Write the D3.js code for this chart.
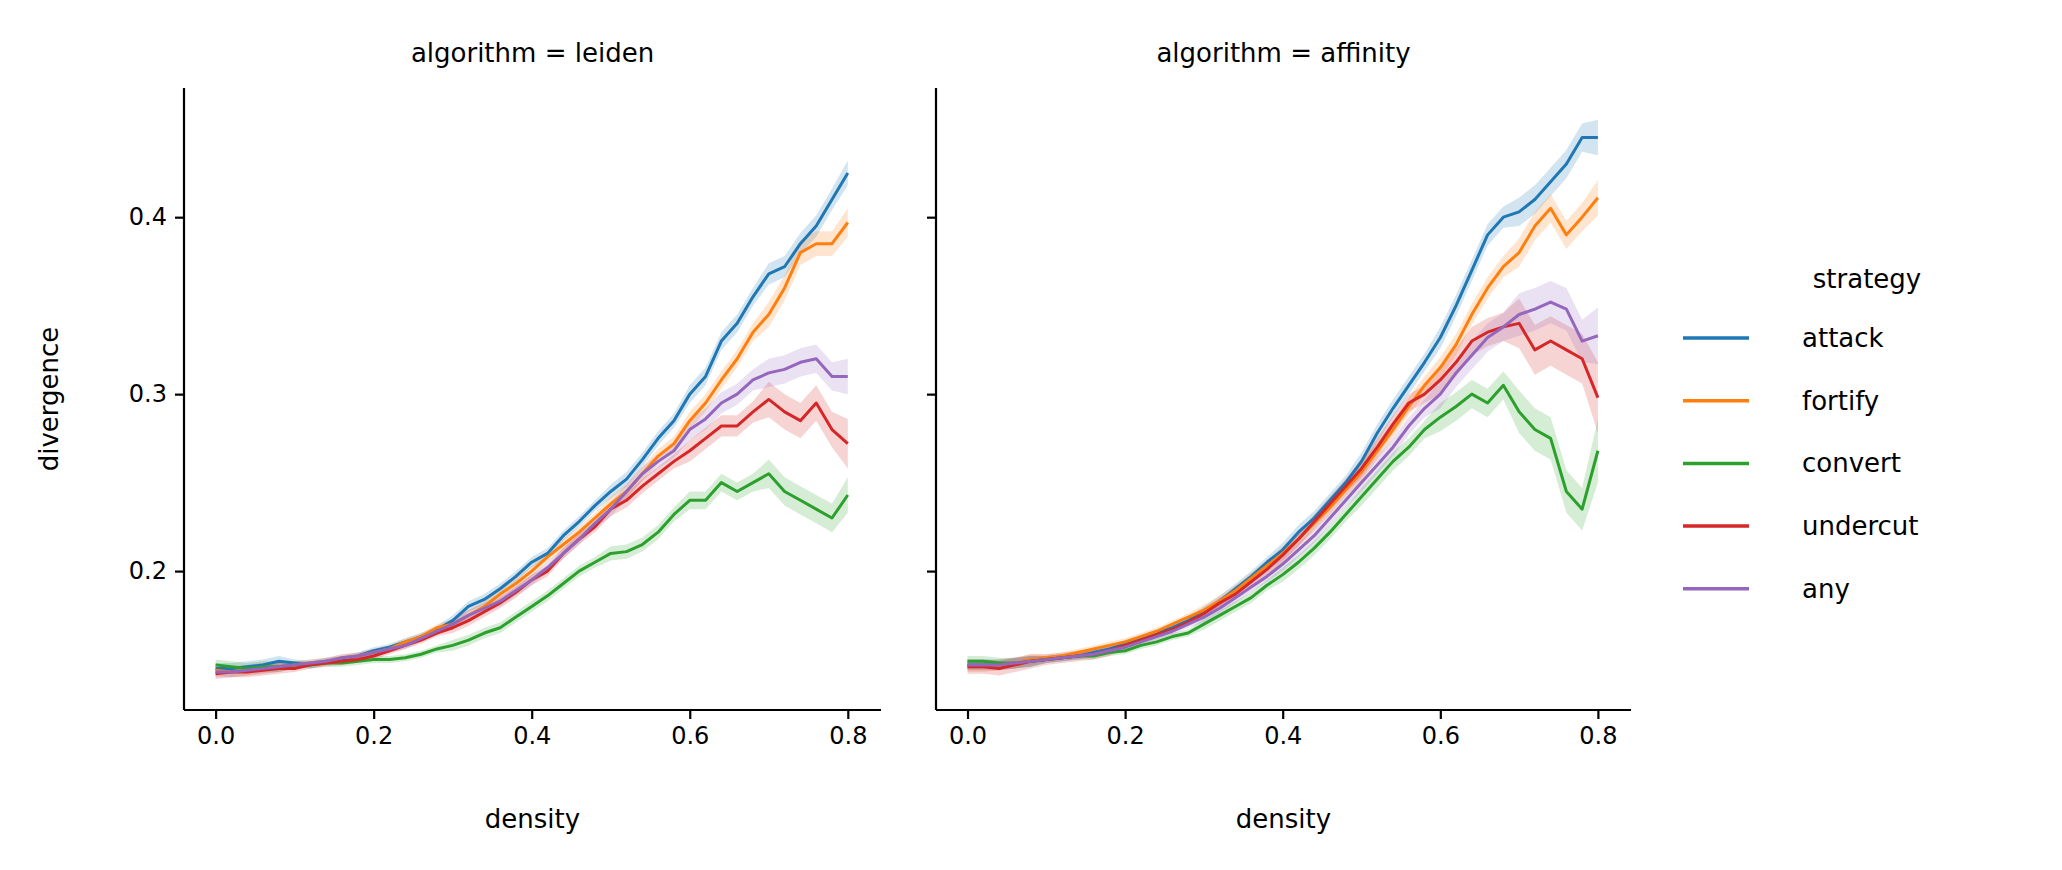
<!DOCTYPE html>
<html><head><meta charset="utf-8">
<script src="https://cdn.jsdelivr.net/npm/d3@7"></script>
<style>body{margin:0;background:#fff}text{font-family:"DejaVu Sans",sans-serif;fill:#000}</style>
</head><body><div id="wrapper"></div>
<script>
const density = d3.range(41).map(i => +(i * 0.02).toFixed(2));
const strategies = ["attack", "fortify", "convert", "undercut", "any"];
const colors = ["#1f77b4", "#ff7f0e", "#2ca02c", "#d62728", "#9467bd"];
const algorithms = ["leiden", "affinity"];

const leiden = {
  attack:  [.145,.145,.146,.147,.149,.148,.147,.149,.150,.152,.155,.157,.160,.163,.167,.172,.180,.184,.190,.197,.205,.210,.220,.228,.237,.245,.252,.263,.275,.285,.300,.310,.330,.340,.355,.368,.372,.385,.395,.410,.425],
  fortify: [.144,.143,.144,.145,.146,.147,.148,.149,.151,.152,.154,.156,.160,.163,.168,.170,.175,.180,.187,.193,.200,.208,.215,.222,.230,.238,.245,.255,.265,.272,.285,.295,.308,.320,.335,.345,.360,.380,.385,.385,.397],
  convert: [.147,.146,.145,.146,.146,.147,.147,.148,.148,.149,.150,.150,.151,.153,.156,.158,.161,.165,.168,.174,.180,.186,.193,.200,.205,.210,.211,.215,.222,.232,.240,.240,.250,.245,.250,.255,.245,.240,.235,.230,.243],
  undercut:[.142,.143,.143,.144,.145,.145,.147,.148,.149,.150,.152,.155,.158,.161,.165,.168,.172,.177,.182,.188,.195,.200,.210,.218,.225,.235,.240,.248,.255,.262,.268,.275,.282,.282,.290,.297,.290,.285,.295,.280,.272],
  any:     [.143,.143,.144,.145,.146,.147,.148,.149,.151,.152,.154,.156,.158,.162,.166,.170,.175,.179,.183,.189,.195,.202,.210,.218,.227,.235,.245,.255,.262,.268,.280,.286,.295,.300,.308,.312,.314,.318,.320,.310,.310]
};
const affinity = {
  attack:  [.147,.147,.147,.148,.149,.150,.151,.152,.154,.156,.159,.162,.165,.168,.172,.177,.183,.190,.197,.205,.212,.222,.230,.240,.250,.262,.278,.292,.305,.318,.332,.350,.370,.390,.400,.403,.410,.420,.430,.445,.445],
  fortify: [.146,.146,.147,.148,.150,.151,.152,.154,.156,.158,.160,.163,.166,.170,.174,.178,.183,.189,.196,.203,.210,.218,.227,.236,.246,.256,.268,.280,.293,.305,.315,.328,.345,.360,.372,.380,.395,.405,.390,.400,.411],
  convert: [.149,.149,.148,.148,.149,.150,.151,.152,.152,.154,.155,.158,.160,.163,.165,.170,.175,.180,.185,.192,.198,.205,.213,.222,.232,.242,.252,.262,.270,.280,.287,.293,.300,.295,.305,.290,.280,.275,.245,.235,.268],
  undercut:[.146,.146,.145,.147,.149,.150,.151,.152,.153,.155,.158,.161,.164,.167,.171,.176,.182,.187,.194,.201,.209,.218,.228,.238,.248,.258,.270,.283,.295,.300,.308,.318,.330,.335,.338,.340,.325,.330,.325,.320,.298],
  any:     [.147,.147,.147,.148,.149,.150,.151,.152,.153,.155,.157,.160,.163,.166,.170,.174,.179,.185,.191,.197,.204,.212,.220,.230,.240,.250,.260,.270,.282,.292,.300,.312,.322,.332,.338,.345,.348,.352,.348,.330,.333]
};
// confidence half-widths per 0.1 density step
const ciLeiden = {
  attack:[.003,.002,.002,.003,.003,.004,.005,.006,.007,.007],
  fortify:[.003,.002,.002,.003,.003,.004,.005,.007,.008,.008],
  convert:[.003,.002,.002,.003,.003,.004,.005,.008,.010,.010],
  undercut:[.003,.002,.002,.003,.003,.004,.006,.010,.014,.014],
  any:[.003,.002,.002,.003,.003,.004,.006,.008,.010,.010]
};
const ciAffinity = {
  attack:[.003,.002,.002,.003,.004,.005,.006,.008,.010,.010],
  fortify:[.003,.002,.002,.003,.004,.005,.006,.008,.010,.010],
  convert:[.003,.002,.002,.003,.004,.005,.008,.012,.018,.018],
  undercut:[.004,.003,.002,.003,.004,.005,.008,.014,.020,.020],
  any:[.003,.002,.002,.003,.004,.005,.008,.012,.016,.016]
};
const panelData = [leiden, affinity];
const panelCi = [ciLeiden, ciAffinity];
const xTicks = [0, 0.2, 0.4, 0.6, 0.8];
const yTicks = [0.2, 0.3, 0.4];

const W = 2062, H = 870;
const svg = d3.select("#wrapper").append("svg").attr("width", W).attr("height", H);
const panels = [{left: 184, right: 881}, {left: 936, right: 1631}];
const plotTop = 88, plotBottom = 710;
const y = d3.scaleLinear().domain([0.1215, 0.473]).range([plotBottom, plotTop]);

panels.forEach((p, pi) => {
  const x = d3.scaleLinear().domain([-0.04, 0.842]).range([p.left, p.right]);
  const g = svg.append("g");
  const d = panelData[pi], ci = panelCi[pi];

  strategies.forEach((s, si) => {
    const pts = density.map((dx, i) => ({x: dx, y: d[s][i], c: ci[s][Math.floor(i / 5)]}));
    g.append("path").datum(pts)
      .attr("fill", colors[si]).attr("fill-opacity", 0.2)
      .attr("d", d3.area().x(q => x(q.x)).y0(q => y(q.y - q.c)).y1(q => y(q.y + q.c)));
  });
  strategies.forEach((s, si) => {
    const pts = density.map((dx, i) => ({x: dx, y: d[s][i]}));
    g.append("path").datum(pts)
      .attr("fill", "none").attr("stroke", colors[si]).attr("stroke-width", 3)
      .attr("stroke-linejoin", "round")
      .attr("d", d3.line().x(q => x(q.x)).y(q => y(q.y)));
  });

  const xa = svg.append("g").attr("transform", `translate(0,${plotBottom})`)
    .call(d3.axisBottom(x).tickValues(xTicks).tickFormat(d3.format(".1f")).tickSize(9).tickPadding(8));
  const ya = svg.append("g").attr("transform", `translate(${p.left},0)`)
    .call(d3.axisLeft(y).tickValues(yTicks).tickFormat(pi === 0 ? d3.format(".1f") : "").tickSize(9).tickPadding(8));
  [xa, ya].forEach(a => {
    a.select(".domain").attr("stroke-width", 2.2).attr("d", a === xa ? `M${p.left},0H${p.right}` : `M0,${plotTop}V${plotBottom}`);
    a.selectAll(".tick line").attr("stroke-width", 2.2);
    a.selectAll("text").style("font-size", "24px").style("font-family", "DejaVu Sans");
  });

  svg.append("text").attr("x", (p.left + p.right) / 2).attr("y", 62).attr("text-anchor", "middle")
    .style("font-size", "26px").text("algorithm = " + algorithms[pi]);
  svg.append("text").attr("x", (p.left + p.right) / 2).attr("y", 828).attr("text-anchor", "middle")
    .style("font-size", "26px").text("density");
});

svg.append("text").attr("transform", `translate(58,${(plotTop + plotBottom) / 2}) rotate(-90)`)
  .attr("text-anchor", "middle").style("font-size", "26px").text("divergence");

const leg = svg.append("g");
leg.append("text").attr("x", 1867).attr("y", 288).attr("text-anchor", "middle")
  .style("font-size", "26px").text("strategy");
strategies.forEach((s, si) => {
  const ly = 338 + si * 62.7;
  leg.append("line").attr("x1", 1683).attr("x2", 1749).attr("y1", ly).attr("y2", ly)
    .attr("stroke", colors[si]).attr("stroke-width", 3.5);
  leg.append("text").attr("x", 1802).attr("y", ly + 9).style("font-size", "26px").text(s);
});
</script></body></html>
